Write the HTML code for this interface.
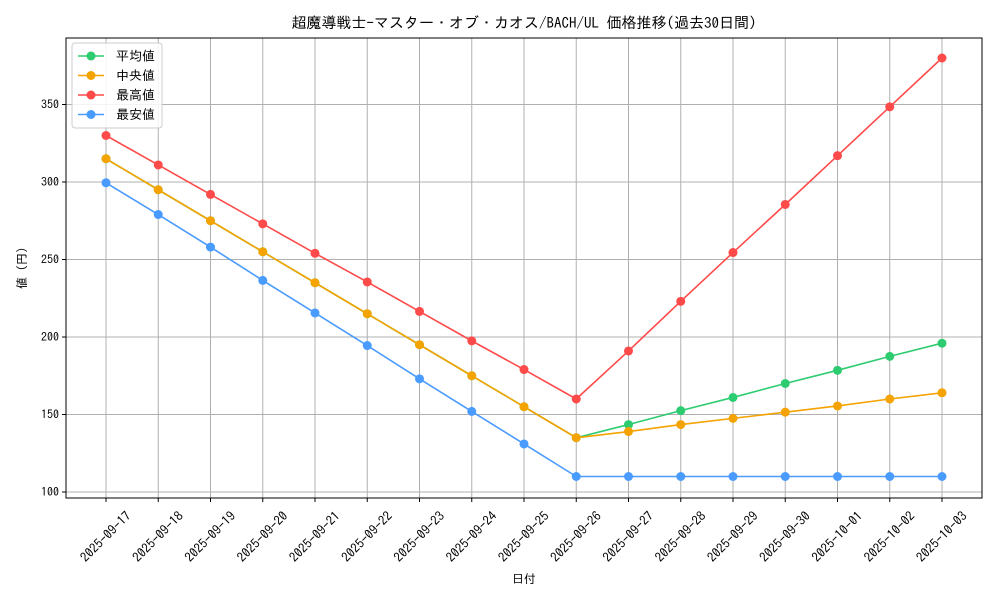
<!DOCTYPE html>
<html><head><meta charset="utf-8"><style>
body{margin:0;background:#fff;}
svg text{font-family:"IPAGothic","Noto Sans CJK JP",sans-serif;fill:#000;}
</style></head><body>
<svg width="1000" height="600" id="c" xmlns="http://www.w3.org/2000/svg"></svg>
<script>
const categories=["2025-09-17","2025-09-18","2025-09-19","2025-09-20","2025-09-21","2025-09-22","2025-09-23","2025-09-24","2025-09-25","2025-09-26","2025-09-27","2025-09-28","2025-09-29","2025-09-30","2025-10-01","2025-10-02","2025-10-03"];
const meanValues=[315,295,275,255,235,215,195,175,155,135,143.5,152.5,161,170,178.5,187.5,196];
const medianValues=[315,295,275,255,235,215,195,175,155,135,139,143.5,147.5,151.5,155.5,160,164];
const maxValues=[330,311,292,273,254,235.5,216.5,197.5,179,160,191,223,254.5,285.5,317,348.5,380];
const minValues=[299.5,279,258,236.5,215.5,194.5,173,152,131,110,110,110,110,110,110,110,110];
const yTicks=[100,150,200,250,300,350];
const seriesNames=["平均値","中央値","最高値","最安値"];
const colors=["#2ecc71","#f5a300","#ff4a4a","#4a9bff"];
const L=66,R=982,T=38,B=498;
const x=i=>106+i*(942-106)/(categories.length-1);
const y=v=>492-(v-100)*1.55;
const svg=document.getElementById('c');const NS="http://www.w3.org/2000/svg";
function el(t,a,p){const e=document.createElementNS(NS,t);for(const k in a)e.setAttribute(k,a[k]);(p||svg).appendChild(e);return e;}
categories.forEach((c,i)=>{
const g=el('line',{x1:x(i),x2:x(i),y1:T,y2:B,stroke:'#b0b0b0','stroke-width':1});


el('line',{x1:x(i),x2:x(i),y1:B,y2:B+4,stroke:'#000'});
const t=el('text',{x:0,y:4,'font-size':13,'text-anchor':'middle',transform:`translate(${x(i)},${B+39}) rotate(-45)`});
t.textContent=c;


});
yTicks.forEach(v=>{
const g=el('line',{x1:L,x2:R,y1:y(v),y2:y(v),stroke:'#b0b0b0','stroke-width':1});


el('line',{x1:L-4,x2:L,y1:y(v),y2:y(v),stroke:'#000'});
const t=el('text',{x:L-7,y:y(v)+4,'font-size':12,'text-anchor':'end'});t.textContent=v;


});
const f=el('rect',{x:L,y:T,width:R-L,height:B-T,fill:'none',stroke:'#000','stroke-width':1});


[meanValues,medianValues,maxValues,minValues].forEach((s,k)=>{
const p=el('polyline',{points:s.map((v,i)=>x(i)+','+y(v)).join(' '),fill:'none',stroke:colors[k],'stroke-width':1.6});


s.forEach((v,i)=>{const c=el('circle',{cx:x(i),cy:y(v),r:4.5,fill:colors[k]});

});
});
const lg=el('g',{});


el('rect',{x:72,y:43,width:90,height:85,fill:'#fff','fill-opacity':0.85,stroke:'#ccc',rx:3},lg);
seriesNames.forEach((n,k)=>{const yy=56+k*19.5;
el('line',{x1:78,x2:104,y1:yy,y2:yy,stroke:colors[k],'stroke-width':1.6},lg);
el('circle',{cx:91,cy:yy,r:4.5,fill:colors[k]},lg);
const t=el('text',{x:116,y:yy+4.5,'font-size':13},lg);t.textContent=n;

});
const ti=el('text',{x:524,y:28,'font-size':15,'text-anchor':'middle'});ti.textContent="超魔導戦士−マスター・オブ・カオス/BACH/UL 価格推移(過去30日間)";


const xt=el('text',{x:524,y:583,'font-size':12,'text-anchor':'middle'});xt.textContent="日付";


const yt=el('text',{x:0,y:0,'font-size':12,'text-anchor':'middle',transform:'translate(26,268) rotate(-90)'});yt.textContent="値 (円)";


</script>
</body></html>
